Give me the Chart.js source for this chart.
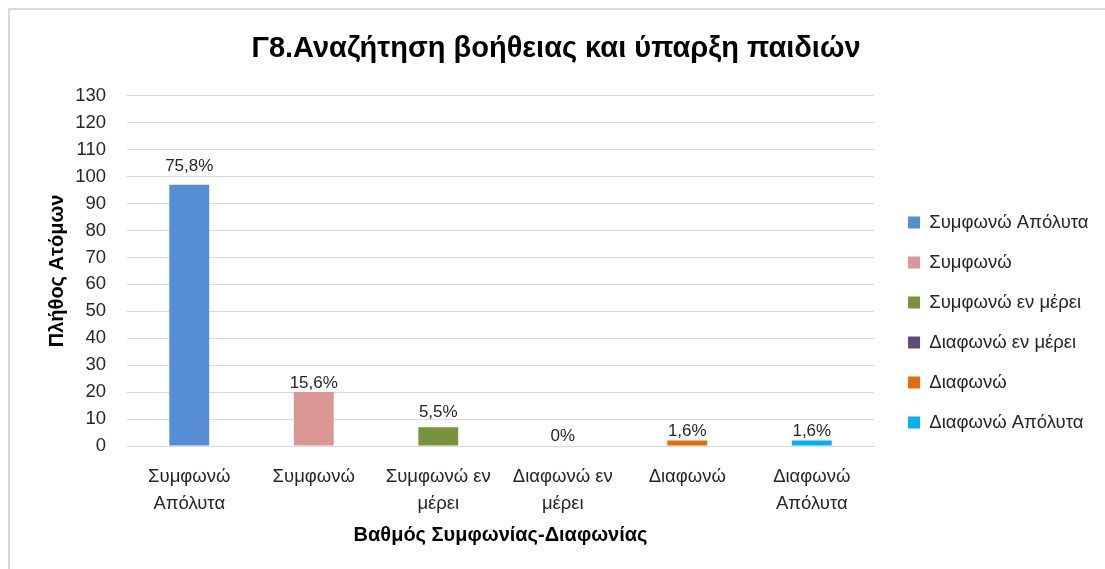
<!DOCTYPE html>
<html>
<head>
<meta charset="utf-8">
<script src="https://cdn.jsdelivr.net/npm/chart.js@4.4.1/dist/chart.umd.min.js"></script>
<style>
  html, body { margin: 0; padding: 0; background: #fff; overflow: hidden; }
  #wrap { position: relative; width: 1105px; height: 569px; }
  #frame { position: absolute; left: 8px; top: 8px; width: 1200px; height: 700px; border: 2px solid #d9d9d9; box-sizing: border-box; }
  canvas { position: absolute; left: 0; top: 0; }
</style>
</head>
<body>
<div id="wrap">
  <div id="frame"></div>
  <canvas id="c" width="1105" height="569"></canvas>
</div>
<script>
const categories = [["Συμφωνώ", "Απόλυτα"], "Συμφωνώ", ["Συμφωνώ εν", "μέρει"], ["Διαφωνώ εν", "μέρει"], "Διαφωνώ", ["Διαφωνώ", "Απόλυτα"]];
const seriesNames = ["Συμφωνώ Απόλυτα", "Συμφωνώ", "Συμφωνώ εν μέρει", "Διαφωνώ εν μέρει", "Διαφωνώ", "Διαφωνώ Απόλυτα"];
const counts = [97, 20, 7, 0, 2, 2];
const percentLabels = ["75,8%", "15,6%", "5,5%", "0%", "1,6%", "1,6%"];
const yTicks = [0, 10, 20, 30, 40, 50, 60, 70, 80, 90, 100, 110, 120, 130];
const colors = ["#558ED5", "#D99694", "#77933C", "#604A7B", "#E46C0A", "#00B0F0"];

const FONT = "'Liberation Sans', 'DejaVu Sans', sans-serif";

// layout targets (pixels)
const PLOT_LEFT = 127, PLOT_RIGHT = 875, PLOT_BOTTOM = 446;
const PAD = { left: 26, right: 19, top: 22, bottom: 19 };
const LEGEND_SHIFT = 12.5;
const LABEL_GAPS = [14, 4, 10, 5, 5, 5];

const datasets = seriesNames.map((name, i) => ({
  label: name,
  data: categories.map((_, j) => (j === i ? counts[i] : null)),
  backgroundColor: colors[i],
  borderWidth: 0,
  barPercentage: 0.32,
  categoryPercentage: 1.0,
  grouped: false
}));

const valueLabels = {
  id: 'valueLabels',
  afterDatasetsDraw(chart) {
    const ctx = chart.ctx;
    ctx.save();
    ctx.font = "17px " + FONT;
    ctx.fillStyle = "#262626";
    ctx.textAlign = "center";
    ctx.textBaseline = "alphabetic";
    chart.data.datasets.forEach((ds, i) => {
      const meta = chart.getDatasetMeta(i);
      const el = meta.data[i];
      if (!el) return;
      ctx.fillText(percentLabels[i], el.x, el.y - LABEL_GAPS[i]);
    });
    ctx.restore();
  }
};

const legendShift = {
  id: 'legendShift',
  afterLayout(chart) {
    if (chart.legend) {
      chart.legend.left += LEGEND_SHIFT;
      chart.legend.right += LEGEND_SHIFT;
    }
  }
};

new Chart(document.getElementById('c'), {
  type: 'bar',
  data: { labels: categories, datasets },
  plugins: [valueLabels, legendShift],
  options: {
    responsive: false,
    animation: false,
    layout: { padding: PAD },
    plugins: {
      tooltip: { enabled: false },
      title: {
        display: true,
        text: "Γ8.Αναζήτηση βοήθειας και ύπαρξη παιδιών",
        color: "#000",
        font: { family: FONT, size: 29, weight: 'bold' },
        padding: { top: 10, bottom: 29 }
      },
      legend: {
        position: 'right',
        title: { display: true, text: ' ', font: { size: 1 }, padding: { top: 72, bottom: 0 } },
        labels: {
          color: "#262626",
          font: { family: FONT, size: 18.5 },
          boxWidth: 12,
          boxHeight: 12,
          padding: 21.5
        }
      }
    },
    scales: {
      x: {
        afterFit(axis) { axis.height = 569 - PAD.bottom - PLOT_BOTTOM; },
        grid: { display: false, drawTicks: false },
        border: { display: true, color: "#d9d9d9", width: 1 },
        ticks: { color: "#262626", font: { family: FONT, size: 18.5, lineHeight: 1.46 }, padding: 17, maxRotation: 0, autoSkip: false },
        title: { display: true, text: "Βαθμός Συμφωνίας-Διαφωνίας", color: "#000", font: { family: FONT, size: 20, weight: 'bold' }, padding: { top: 7, bottom: 3 } }
      },
      y: {
        min: 0,
        max: 130,
        afterFit(axis) { axis.width = PLOT_LEFT - PAD.left; },
        afterBuildTicks(axis) { axis.ticks = yTicks.map(v => ({ value: v })); },
        grid: { color: "#d9d9d9", lineWidth: 1, drawTicks: false },
        border: { display: false },
        ticks: { color: "#262626", font: { family: FONT, size: 18.5 }, padding: 21 },
        title: { display: true, text: "Πλήθος Ατόμων", color: "#000", font: { family: FONT, size: 20, weight: 'bold' }, padding: { top: 19, bottom: 6 } }
      }
    }
  }
});
</script>
</body>
</html>
